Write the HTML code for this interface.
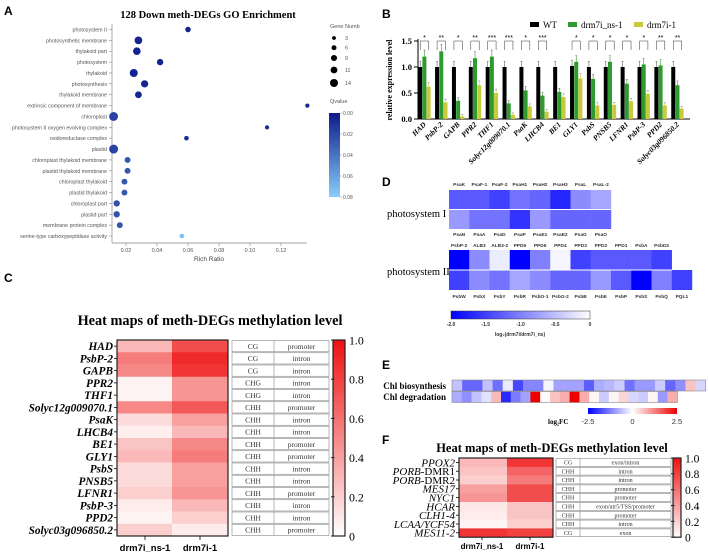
<!DOCTYPE html>
<html><head><meta charset="utf-8">
<style>
html,body{margin:0;padding:0;background:#fff;}
svg{display:block;}
.sans{font-family:"Liberation Sans",sans-serif;}
.serif{font-family:"Liberation Serif",serif;}
</style></head>
<body>
<svg id="fig" width="708" height="557" viewBox="0 0 708 557" xmlns="http://www.w3.org/2000/svg">
<defs>
<linearGradient id="gq" x1="0" y1="0" x2="0" y2="1"><stop offset="0" stop-color="#0d1a8a"/><stop offset="1" stop-color="#87cefa"/></linearGradient>
<linearGradient id="gd" x1="0" y1="0" x2="1" y2="0"><stop offset="0" stop-color="#0000ff"/><stop offset="1" stop-color="#ffffff"/></linearGradient>
<linearGradient id="ge" x1="0" y1="0" x2="1" y2="0"><stop offset="0" stop-color="#0000ff"/><stop offset="0.5" stop-color="#ffffff"/><stop offset="1" stop-color="#ee0000"/></linearGradient>
<linearGradient id="gr" x1="0" y1="1" x2="0" y2="0"><stop offset="0" stop-color="#ffffff"/><stop offset="1" stop-color="#ee1111"/></linearGradient>
</defs>
<g id="pA"></g>
<g id="pB"></g>
<g id="pC"></g>
<g id="pD"></g>
<g id="pE"></g>
<g id="pF"></g>
</svg>
<script>
// ---- Panel A data
const goTerms=["photosystem II","photosynthetic membrane","thylakoid part","photosystem","thylakoid","photosynthesis","thylakoid membrane","extrinsic component of membrane","chloroplast","photosystem II oxygen evolving complex","oxidoreductase complex","plastid","chloroplast thylakoid membrane","plastid thylakoid membrane","chloroplast thylakoid","plastid thylakoid","chloroplast part","plastid part","membrane protein complex","serine-type carboxypeptidase activity"];
const goRich=[0.060,0.028,0.027,0.042,0.025,0.032,0.028,0.137,0.012,0.111,0.059,0.012,0.021,0.021,0.019,0.019,0.014,0.014,0.016,0.056];
const goGenes=[6,11,11,8,12,10,9,3,14,3,4,14,7,7,7,7,8,8,7,4];
const goQ=[0.004,0.004,0.004,0.004,0.004,0.005,0.005,0.006,0.018,0.008,0.01,0.018,0.026,0.026,0.027,0.027,0.025,0.025,0.026,0.075];
const aTicks=[0.02,0.04,0.06,0.08,0.10,0.12];
const legGenes=[3,6,9,11,14];
const qTicks=["0.00","0.02","0.04","0.06","0.08"];
// ---- Panel B data
const bGenes=["HAD","PsbP-2","GAPB","PPR2","THF1","Solyc12g009070.1","PsaK","LHCB4","BE1","GLY1","PsbS","PNSB5","LFNR1","PsbP-3","PPD2","Solyc03g096850.2"];
const bWT=[1.0,1.0,1.0,1.0,1.0,1.0,1.0,1.0,1.0,1.02,1.0,1.0,1.0,1.0,1.0,1.0];
const bNS=[1.2,1.3,0.35,1.17,1.2,0.3,0.55,0.45,0.52,1.1,0.77,1.1,0.68,1.05,1.03,0.65];
const bI=[0.62,0.32,0.05,0.65,0.5,0.08,0.24,0.14,0.42,0.78,0.26,0.27,0.34,0.48,0.26,0.2];
const bStars=["*","**","*","**","***","***","*","***","","*","*","*","*","*","**","**"];
const bTicks=[0,0.5,1.0,1.5];
// ---- Panel C data
const cGenes=["HAD","PsbP-2","GAPB","PPR2","THF1","Solyc12g009070.1","PsaK","LHCB4","BE1","GLY1","PsbS","PNSB5","LFNR1","PsbP-3","PPD2","Solyc03g096850.2"];
const cNS=[0.3,0.55,0.5,0.05,0.05,0.5,0.15,0.07,0.25,0.3,0.15,0.15,0.2,0.08,0.05,0.2];
const cI=[0.75,0.9,0.85,0.45,0.45,0.7,0.4,0.3,0.5,0.55,0.4,0.4,0.45,0.3,0.2,0.08];
const cCtx=["CG","CG","CG","CHG","CHG","CHH","CHH","CHH","CHH","CHH","CHH","CHH","CHH","CHH","CHH","CHH"];
const cReg=["promoter","intron","intron","intron","intron","promoter","intron","intron","promoter","promoter","intron","intron","promoter","intron","intron","promoter"];
const redTicks=[0,0.2,0.4,0.6,0.8,1.0];
// ---- Panel D data
const ps1Top=["PsaK","PsaF-1","PsaF-2","PsaH1","PsaH2","PsaH3","PsaL","PsaL-2"];
const ps1TopV=[-1.3,-1.3,-1.5,-1.1,-1.2,-1.7,-0.9,-0.7];
const ps1Bot=["PsaN","PsaA","PsaD","PsaP","PsaE1","PsaE2","PsaG","PsaO"];
const ps1BotV=[-0.8,-1.1,-1.1,-1.6,-0.8,-1.2,-1.2,-1.2];
const ps2Top=["PsbP-2","ALB3","ALB3-2","PPD6","PPD5","PPD4","PPD3","PPD2","PPD1","PsbA","PsbD2"];
const ps2TopV=[-2.0,-0.9,-0.15,-2.0,-1.0,-0.08,-1.5,-1.3,-1.3,-1.3,-1.5];
const ps2Bot=["PsbW","PsbX","PsbY","PsbR","PsbO-1","PsbO-2","PsbB","PsbE","PsbP","PsbS","PsbQ","PQL1"];
const ps2BotV=[-1.5,-0.9,-1.1,-0.7,-0.9,-1.2,-1.2,-0.8,-1.3,-2.0,-1.0,-1.5];
const dTicks=["-2.0","-1.5","-1.0","-0.5","0"];
// ---- Panel E data
const eBio=[-0.6,-1.5,-1.5,-0.6,-1.4,-0.2,-1.8,-1.2,-1.2,-0.1,-0.9,-0.9,-0.9,-1.6,-0.8,-0.7,-0.5,-1.4,-1.0,-1.0,-0.5,-1.5,-1.1,0.6,-0.4];
const eDeg=[-0.8,-1.1,-0.6,-0.3,0.7,-2.1,-1.3,-0.9,2.5,0.05,0.6,0.8,2.5,0.8,0.1,-0.5,0.1,0.4,-0.4,-0.5,0.1,-1.0,0.8];
const eTicks=["-2.5","0","2.5"];
// ---- Panel F data
const fGenes=[["PPOX2",""],["PORB","-DMR1"],["PORB","-DMR2"],["MES17",""],["NYC1",""],["HCAR",""],["CLH1-4",""],["LCAA/YCF54",""],["MES11-2",""]];
const fNS=[0.3,0.25,0.2,0.4,0.45,0.1,0.08,0.05,0.85];
const fI=[0.85,0.65,0.55,0.75,0.75,0.25,0.25,0.2,0.8];
const fCtx=["CG","CHH","CHH","CHH","CHH","CHH","CHH","CHH","CG"];
const fReg=["exon/intron","intron","intron","promoter","promoter","exon/utr5/TSS/promoter","promoter","intron","exon"];

const NS="http://www.w3.org/2000/svg";
function mk(parent,tag,attrs,text){const e=document.createElementNS(NS,tag);for(const k in attrs)e.setAttribute(k,attrs[k]);if(text!==undefined)e.textContent=text;parent.appendChild(e);return e;}
function lerp(a,b,t){return Math.round(a+(b-a)*t);}
function mix(c1,c2,t){t=Math.max(0,Math.min(1,t));return `rgb(${lerp(c1[0],c2[0],t)},${lerp(c1[1],c2[1],t)},${lerp(c1[2],c2[2],t)})`;}
const WHITE=[255,255,255],BLUE=[0,0,255],RED=[238,17,17];
function blueScale(v){return mix(WHITE,BLUE,-v/2);}
function divScale(v){return v<0?mix(WHITE,BLUE,-v/2.5):mix(WHITE,[238,0,0],v/2.5);}
function redScale(v){return mix(WHITE,RED,v);}
function qScale(q){return mix([13,26,138],[135,206,250],q/0.08);}

// ===== Panel A
(function(){
const g=document.getElementById('pA');
let t=mk(g,'text',{x:4,y:15,'font-size':12,'font-weight':'bold',class:'sans'},'A');

t=mk(g,'text',{x:208,y:18,'font-size':10.5,'font-weight':'bold',class:'serif','text-anchor':'middle'},'128 Down meth-DEGs GO Enrichment');

const xS=v=>126+(v-0.02)*1550;
const yS=i=>29.5+i*10.87;
const rS=n=>1.5+n*0.21;
mk(g,'line',{x1:112,y1:24,x2:112,y2:243,stroke:'#888','stroke-width':0.7});
mk(g,'line',{x1:112,y1:243,x2:307,y2:243,stroke:'#888','stroke-width':0.7});
aTicks.forEach(v=>{
  mk(g,'line',{x1:xS(v),y1:243,x2:xS(v),y2:246,stroke:'#888','stroke-width':0.6});
  const tk=mk(g,'text',{x:xS(v),y:252,'font-size':5.5,fill:'#555',class:'sans','text-anchor':'middle'},v.toFixed(2));
  
});
t=mk(g,'text',{x:209,y:261,'font-size':6.5,fill:'#444',class:'sans','text-anchor':'middle'},'Rich Ratio');

goTerms.forEach((name,i)=>{
  mk(g,'line',{x1:109,y1:yS(i),x2:112,y2:yS(i),stroke:'#888','stroke-width':0.6});
  const lb=mk(g,'text',{x:107,y:yS(i)+2,'font-size':5.3,fill:'#555',class:'sans','text-anchor':'end'},name);
  
  const c=mk(g,'circle',{cx:xS(goRich[i]),cy:yS(i),r:rS(goGenes[i]),fill:qScale(goQ[i])});
  
});
t=mk(g,'text',{x:330,y:28,'font-size':5.5,fill:'#555',class:'sans'},'Gene Numb');

const ly=[38,47.7,58,70,83];
legGenes.forEach((n,i)=>{
  const c=mk(g,'circle',{cx:334,cy:ly[i],r:rS(n)*0.9,fill:'#000'});
  
  mk(g,'text',{x:345,y:ly[i]+2,'font-size':5.3,fill:'#555',class:'sans'},String(n));
});
t=mk(g,'text',{x:330,y:103,'font-size':5.5,fill:'#555',class:'sans'},'Qvalue');

const cb=mk(g,'rect',{x:329,y:113,width:11,height:84,fill:'url(#gq)'});

qTicks.forEach((q,i)=>{const y=113+i*21;mk(g,'line',{x1:340,y1:y,x2:342,y2:y,stroke:'#888','stroke-width':0.5});mk(g,'text',{x:343,y:y+2,'font-size':5,fill:'#555',class:'sans'},q);});
})();

// ===== Panel B
(function(){
const g=document.getElementById('pB');
let t=mk(g,'text',{x:382,y:18,'font-size':12,'font-weight':'bold',class:'sans'},'B');

const yS=v=>119-v*52;
const gx=i=>424.5+i*16.87;
const cols=['#000000','#2e9b2e','#c9c93c'];
const leg=[['WT',530],['drm7i_ns-1',568],['drm7i-1',634]];
leg.forEach((l,i)=>{
  const r=mk(g,'rect',{x:l[1],y:22,width:9,height:5,fill:cols[i]});
  
  mk(g,'text',{x:l[1]+13,y:28,'font-size':9,class:'serif'},l[0]);
});
mk(g,'line',{x1:418,y1:39,x2:418,y2:119,stroke:'#000','stroke-width':1});
mk(g,'line',{x1:418,y1:119,x2:690,y2:119,stroke:'#000','stroke-width':1});
bTicks.forEach(v=>{
  mk(g,'line',{x1:414,y1:yS(v),x2:418,y2:yS(v),stroke:'#000','stroke-width':1});
  const tk=mk(g,'text',{x:412,y:yS(v)+3,'font-size':8.5,'font-weight':'bold',class:'serif','text-anchor':'end'},v.toFixed(1));
  
});
t=mk(g,'text',{x:0,y:0,'font-size':8,'font-weight':'bold',class:'serif','text-anchor':'middle',transform:'translate(392,80) rotate(-90)'},'relative expression level');

const series=[bWT,bNS,bI];
bGenes.forEach((name,i)=>{
  series.forEach((arr,s)=>{
    const x=gx(i)-6.3+s*4.2;
    const r=mk(g,'rect',{x:x,y:yS(arr[i]),width:4,height:arr[i]*52,fill:cols[s]});
    
    const e=arr[i]*0.08+0.03;
    mk(g,'line',{x1:x+2,y1:yS(arr[i]+e),x2:x+2,y2:yS(arr[i]),stroke:cols[s]==='#000000'?'#666':cols[s],'stroke-width':0.6});
    mk(g,'line',{x1:x+1,y1:yS(arr[i]+e),x2:x+3,y2:yS(arr[i]+e),stroke:'#666','stroke-width':0.5});
  });
  if(bStars[i]){
    const x1=gx(i)-4.3,x2=gx(i)+4.1;
    mk(g,'path',{d:`M${x1} 50 V41 H${x2} V50`,fill:'none',stroke:'#333','stroke-width':0.5});
    const st=mk(g,'text',{x:gx(i),y:40,'font-size':7,class:'sans','text-anchor':'middle'},bStars[i]);
    
  }
  const lb=mk(g,'text',{x:0,y:0,'font-size':7.5,'font-weight':'bold','font-style':'italic',class:'serif','text-anchor':'end',transform:`translate(${gx(i)+2},125) rotate(-45)`},name);
  
});
})();

// ===== generic methylation heatmap
function methMap(g,opt){
  const {x0,x1,xm,y0,rowH,genes,a,b,ctx,reg,tx0,tx1,txm,cbx,cbw,fs,tfs,labFn}=opt;
  genes.forEach((name,i)=>{
    const y=y0+i*rowH;
    let r=mk(g,'rect',{x:x0,y:y,width:xm-x0,height:rowH+0.3,fill:redScale(a[i])});
    
    r=mk(g,'rect',{x:xm,y:y,width:x1-xm,height:rowH+0.3,fill:redScale(b[i])});
    
    mk(g,'line',{x1:x0-3,y1:y+rowH/2,x2:x0,y2:y+rowH/2,stroke:'#000','stroke-width':0.8});
    labFn(name,x0-4,y+rowH/2+fs*0.35);
    r=mk(g,'rect',{x:tx0,y:y+0.5,width:tx1-tx0,height:rowH-1,fill:'#fff',stroke:'#888','stroke-width':0.6});
    
    mk(g,'line',{x1:txm,y1:y+0.5,x2:txm,y2:y+rowH-0.5,stroke:'#888','stroke-width':0.6});
    let t=mk(g,'text',{x:(tx0+txm)/2,y:y+rowH/2+tfs*0.35,'font-size':tfs,class:'serif','text-anchor':'middle',fill:'#333'},ctx[i]);
    
    t=mk(g,'text',{x:(txm+tx1)/2,y:y+rowH/2+tfs*0.35,'font-size':tfs,class:'serif','text-anchor':'middle',fill:'#333','font-family':'"Liberation Mono",monospace'},reg[i]);
    
  });
  const y1=y0+genes.length*rowH;
  mk(g,'rect',{x:x0,y:y0,width:x1-x0,height:y1-y0,fill:'none',stroke:'#222','stroke-width':1.2});
  const cb=mk(g,'rect',{x:cbx,y:y0,width:cbw,height:y1-y0,fill:'url(#gr)',stroke:'#222','stroke-width':1.2});
  
  redTicks.forEach(v=>{
    const y=y1-v*(y1-y0);
    mk(g,'line',{x1:cbx-2,y1:y,x2:cbx+1.5,y2:y,stroke:'#222','stroke-width':1});
    const tk=mk(g,'text',{x:cbx+cbw+4,y:y+fs*0.4,'font-size':fs*1.05,class:'serif'},v===0?'0':v.toFixed(1));
    
  });
  return y1;
}

// ===== Panel C
(function(){
const g=document.getElementById('pC');
let t=mk(g,'text',{x:4,y:282,'font-size':12,'font-weight':'bold',class:'sans'},'C');

t=mk(g,'text',{x:210,y:325,'font-size':14.3,'font-weight':'bold',class:'serif','text-anchor':'middle'},'Heat maps of meth-DEGs methylation level');

const y1=methMap(g,{x0:117,x1:228,xm:172,y0:340,rowH:12.25,genes:cGenes,a:cNS,b:cI,ctx:cCtx,reg:cReg,tx0:232,tx1:329,txm:274,cbx:333,cbw:12,fs:11.3,tfs:7.5,
 labFn:(n,x,y)=>{const l=mk(g,'text',{x:x,y:y,'font-size':11.3,'font-weight':'bold','font-style':'italic',class:'serif','text-anchor':'end'},n);}});
[[145,'drm7i_ns-1'],[200,'drm7i-1']].forEach(p=>{
  mk(g,'line',{x1:p[0],y1:y1,x2:p[0],y2:y1+4,stroke:'#000','stroke-width':0.8});
  const l=mk(g,'text',{x:p[0],y:551,'font-size':9.5,'font-weight':'bold',class:'sans','text-anchor':'middle'},p[1]);
  
});
})();

// ===== Panel D
(function(){
const g=document.getElementById('pD');
let t=mk(g,'text',{x:382,y:186,'font-size':12,'font-weight':'bold',class:'sans'},'D');

const cw=20.25,x0=449;
function row(labels,vals,y,h,labY){
  vals.forEach((v,i)=>{
    const r=mk(g,'rect',{x:x0+i*cw,y:y,width:cw+0.2,height:h,fill:blueScale(v)});
    
    const l=mk(g,'text',{x:x0+i*cw+cw/2,y:labY,'font-size':4.8,'font-weight':'bold',class:'sans','text-anchor':'middle',fill:'#333'},labels[i]);
    
  });
}
row(ps1Top,ps1TopV,190,19.5,186);
row(ps1Bot,ps1BotV,209.5,19.5,236);
mk(g,'line',{x1:x0,y1:209.5,x2:x0+8*cw,y2:209.5,stroke:'#fff','stroke-width':1});
row(ps2Top,ps2TopV,250,20,247);
row(ps2Bot,ps2BotV,270,20,298);
mk(g,'line',{x1:x0,y1:270,x2:x0+11*cw,y2:270,stroke:'#fff','stroke-width':1});
t=mk(g,'text',{x:387,y:217,'font-size':10.5,class:'serif'},'photosystem I');

t=mk(g,'text',{x:387,y:275,'font-size':10.5,class:'serif'},'photosystem II');

const cb=mk(g,'rect',{x:451,y:311,width:139,height:8,fill:'url(#gd)',stroke:'#333','stroke-width':0.5});

dTicks.forEach((s,i)=>{const x=451+i*34.75;mk(g,'text',{x:x,y:326,'font-size':5,'font-weight':'bold',class:'sans','text-anchor':'middle',fill:'#333'},s);});
t=mk(g,'text',{x:520,y:336,'font-size':5,'font-weight':'bold',class:'sans','text-anchor':'middle',fill:'#333'},'log₂(drm7i/drm7i_ns)');

})();

// ===== Panel E
(function(){
const g=document.getElementById('pE');
let t=mk(g,'text',{x:382,y:369,'font-size':12,'font-weight':'bold',class:'sans'},'E');

const x0=452,cw=10.15,cw2=9.8;
eBio.forEach((v,i)=>{const r=mk(g,'rect',{x:x0+i*cw,y:380,width:cw+0.2,height:11,fill:divScale(v)});});
mk(g,'rect',{x:x0,y:380,width:eBio.length*cw,height:11,fill:'none',stroke:'#888','stroke-width':0.6});
eDeg.forEach((v,i)=>{const r=mk(g,'rect',{x:x0+i*cw2,y:391.5,width:cw2+0.2,height:11,fill:divScale(v)});});
mk(g,'rect',{x:x0,y:391.5,width:eDeg.length*cw2,height:11,fill:'none',stroke:'#888','stroke-width':0.6});
t=mk(g,'text',{x:446,y:389,'font-size':9,'font-weight':'bold',class:'serif','text-anchor':'end'},'Chl biosynthesis');

t=mk(g,'text',{x:446,y:400,'font-size':9,'font-weight':'bold',class:'serif','text-anchor':'end'},'Chl degradation');

const cb=mk(g,'rect',{x:588,y:408,width:89,height:6,fill:'url(#ge)'});

t=mk(g,'text',{x:548,y:424,'font-size':7,'font-weight':'bold',class:'serif'},'log₂FC');

eTicks.forEach((s,i)=>{mk(g,'text',{x:588+i*44.5,y:424,'font-size':7.5,class:'sans','text-anchor':'middle',fill:'#333'},s);});
})();

// ===== Panel F
(function(){
const g=document.getElementById('pF');
let t=mk(g,'text',{x:382,y:444,'font-size':12,'font-weight':'bold',class:'sans'},'F');

t=mk(g,'text',{x:552,y:452,'font-size':12.5,'font-weight':'bold',class:'serif','text-anchor':'middle'},'Heat maps of meth-DEGs methylation level');

const y1=methMap(g,{x0:459,x1:553,xm:507,y0:458,rowH:8.8,genes:fGenes,a:fNS,b:fI,ctx:fCtx,reg:fReg,tx0:556,tx1:671,txm:580,cbx:673,cbw:8,fs:11,tfs:6,
 labFn:(n,x,y)=>{const l=mk(g,'text',{x:x,y:y,'font-size':11,'font-style':'italic',class:'serif','text-anchor':'end'});
   mk(l,'tspan',{},n[0]); if(n[1]){mk(l,'tspan',{'font-style':'normal'},n[1]);}
   }});
[[482,'drm7i_ns-1'],[530,'drm7i-1']].forEach(p=>{
  mk(g,'line',{x1:p[0],y1:y1,x2:p[0],y2:y1+3,stroke:'#000','stroke-width':0.8});
  const l=mk(g,'text',{x:p[0],y:549,'font-size':8,'font-weight':'bold',class:'sans','text-anchor':'middle'},p[1]);
  
});
})();
</script>
</body></html>
